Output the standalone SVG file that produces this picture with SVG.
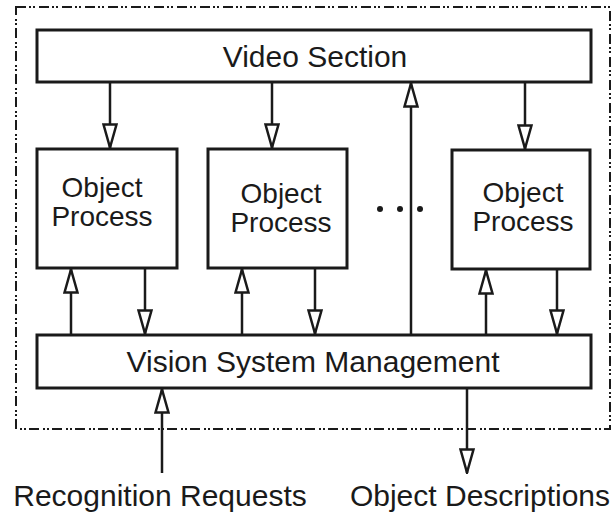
<svg xmlns="http://www.w3.org/2000/svg" width="616" height="518" viewBox="0 0 616 518">
<style>
.box{fill:#fff;stroke:#1a1a1a;stroke-width:3}
.ln{stroke:#1a1a1a;stroke-width:2.5;fill:none}
.t{font-family:"Liberation Sans",Arial,sans-serif;fill:#1a1a1a;text-anchor:middle}
.big{font-size:30px}
.op{font-size:28px}
</style>
<defs>
<marker id="ah" viewBox="0 0 26 16" refX="25" refY="8" markerWidth="26" markerHeight="16" markerUnits="userSpaceOnUse" orient="auto">
<path d="M1.5,1.5 L24.5,8 L1.5,14.5 Z" fill="#fff" stroke="#1a1a1a" stroke-width="2.5" stroke-linejoin="miter"/>
</marker>
</defs>
<rect x="16" y="7" width="594" height="422" fill="none" stroke="#1a1a1a" stroke-width="2" stroke-dasharray="10 3 2 2 2 4"/>
<g id="video">
<rect class="box" x="37" y="30" width="554" height="52"/>
<text class="t big" x="315" y="67">Video Section</text>
</g>
<g id="op1">
<rect class="box" x="37" y="149" width="140" height="119"/>
<text class="t op" x="102" y="197">Object</text>
<text class="t op" x="102" y="226">Process</text>
</g>
<g id="op2">
<rect class="box" x="208" y="149" width="139" height="119"/>
<text class="t op" x="281" y="203">Object</text>
<text class="t op" x="281" y="232">Process</text>
</g>
<g id="op3">
<rect class="box" x="452" y="150" width="138" height="119"/>
<text class="t op" x="523" y="202">Object</text>
<text class="t op" x="523" y="231">Process</text>
</g>
<g id="dots" fill="#1a1a1a">
<circle cx="380" cy="209" r="3"/>
<circle cx="400" cy="209" r="3"/>
<circle cx="420" cy="209" r="3"/>
</g>
<g id="vsm">
<rect class="box" x="37" y="335" width="554" height="53"/>
<text class="t big" x="313" y="372">Vision System Management</text>
</g>
<g id="labels">
<text class="t big" x="160" y="506">Recognition Requests</text>
<text class="t big" x="480" y="506">Object Descriptions</text>
</g>
<g id="connectors" class="ln">
<line class="ln" x1="110" y1="82" x2="110" y2="148" marker-end="url(#ah)"/>
<line class="ln" x1="272" y1="82" x2="272" y2="148" marker-end="url(#ah)"/>
<line class="ln" x1="525" y1="82" x2="525" y2="149" marker-end="url(#ah)"/>
<line class="ln" x1="411" y1="335" x2="411" y2="83" marker-end="url(#ah)"/>
<line class="ln" x1="71" y1="335" x2="71" y2="269" marker-end="url(#ah)"/>
<line class="ln" x1="145" y1="268" x2="145" y2="334" marker-end="url(#ah)"/>
<line class="ln" x1="242" y1="335" x2="242" y2="269" marker-end="url(#ah)"/>
<line class="ln" x1="315" y1="268" x2="315" y2="334" marker-end="url(#ah)"/>
<line class="ln" x1="486" y1="335" x2="486" y2="270" marker-end="url(#ah)"/>
<line class="ln" x1="557" y1="269" x2="557" y2="334" marker-end="url(#ah)"/>
<line class="ln" x1="162" y1="473" x2="162" y2="389" marker-end="url(#ah)"/>
<line class="ln" x1="467" y1="388" x2="467" y2="473" marker-end="url(#ah)"/>
</g>
</svg>
